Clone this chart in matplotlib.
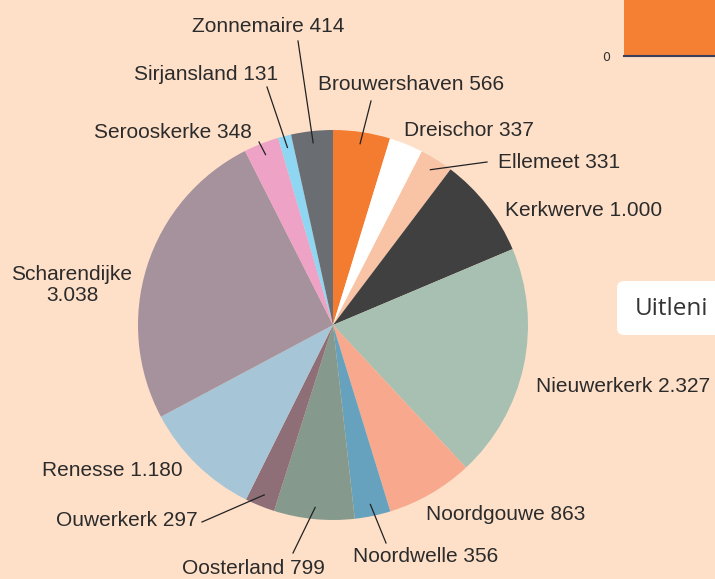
import numpy as np
import matplotlib.pyplot as plt
from matplotlib.patches import FancyBboxPatch

# data: villages, clockwise from 12 o'clock
names = ['Brouwershaven', 'Dreischor', 'Ellemeet', 'Kerkwerve', 'Nieuwerkerk',
         'Noordgouwe', 'Noordwelle', 'Oosterland', 'Ouwerkerk', 'Renesse',
         'Scharendijke', 'Serooskerke', 'Sirjansland', 'Zonnemaire']
values = [566, 337, 331, 1000, 2327, 863, 356, 799, 297, 1180, 3038, 348, 131, 414]
value_labels = ['566', '337', '331', '1.000', '2.327', '863', '356', '799', '297',
                '1.180', '3.038', '348', '131', '414']
colors = ['#F47C30', '#FFFFFF', '#F9C4A6', '#404040', '#A7C0B2', '#F8A98D',
          '#66A2BD', '#859A8C', '#8E6F78', '#A6C5D6', '#A5929C', '#EDA2C6',
          '#8ED6F2', '#6A6D72']

# partial bar of the neighbouring chart (top right)
bar_values = [1600]

bg = '#FEE0C9'
txt = '#2B2B2B'

fig = plt.figure(figsize=(7.15, 5.79), dpi=100)
fig.patch.set_facecolor(bg)

# main axes in pixel coordinates (y downwards)
ax = fig.add_axes([0, 0, 1, 1])
cx, cy, r = 333, 325, 195
wedges, _ = ax.pie(values, colors=colors, startangle=-90, counterclock=True,
                   center=(cx, cy), radius=r, frame=True,
                   wedgeprops=dict(linewidth=0))
ax.set_xlim(0, 715)
ax.set_ylim(579, 0)
ax.set_aspect('equal')
ax.axis('off')

# label placement: (text x, text y, leader start) ; None = no leader
layout = {
    'Brouwershaven': (411, 85, (371, 101)),
    'Dreischor': (469, 131, None),
    'Ellemeet': (559, 162, (487, 162)),
    'Kerkwerve': (584, 210, None),
    'Nieuwerkerk': (623, 387, None),
    'Noordgouwe': (506, 515, None),
    'Noordwelle': (426, 556, (386, 543)),
    'Oosterland': (253, 569, (293, 553)),
    'Ouwerkerk': (127, 521, (202, 522)),
    'Renesse': (112, 471, None),
    'Scharendijke': (72, 285, None),
    'Serooskerke': (173, 133, (259, 142)),
    'Sirjansland': (206, 75, (267, 87)),
    'Zonnemaire': (268, 26, (298, 41)),
}

for w, name, lab in zip(wedges, names, value_labels):
    tx, ty, start = layout[name]
    s = name + '\n' + lab if name == 'Scharendijke' else name + ' ' + lab
    ax.text(tx, ty, s, ha='center', va='center', fontsize=15, color=txt,
            family='Liberation Sans', linespacing=1.1)
    if start is not None:
        mid = np.deg2rad((w.theta1 + w.theta2) / 2)
        f = 0.94
        ex, ey = cx + f * r * np.cos(mid), cy + f * r * np.sin(mid)
        ax.plot([start[0], ex], [start[1], ey], color='#222222', lw=0.9)

# cut-off legend/button on the right
box = FancyBboxPatch((617, 281), 130, 54, boxstyle='round,pad=0,rounding_size=7',
                     facecolor='white', edgecolor='none', zorder=5)
ax.add_patch(box)
ax.text(635, 309, 'Uitleni', ha='left', va='center', fontsize=17.5, color='#333333',
        family='Open Sans', zorder=6)

# neighbouring bar chart, only partly visible
bax = fig.add_axes([624 / 715, 1 - 56 / 579, 0.3, 0.21])
bax.set_facecolor(bg)
bax.bar([0], bar_values, width=2, color='#F57F32', align='edge')
bax.set_xlim(0, 1)
bax.set_ylim(0, 2000)
bax.set_yticks([0, 1000])
bax.set_yticklabels(['0', '1000'])
bax.tick_params(axis='y', length=0, labelsize=9, colors='#333333', pad=10)
bax.tick_params(axis='x', length=0, labelbottom=False)
for s in ['top', 'right', 'left']:
    bax.spines[s].set_visible(False)
bax.spines['bottom'].set_color('#3D3D5C')
bax.spines['bottom'].set_linewidth(1.5)
for lbl in bax.get_yticklabels()[1:]:
    lbl.set_color('#999999')

fig.savefig('out.png', dpi=100, facecolor=bg)
